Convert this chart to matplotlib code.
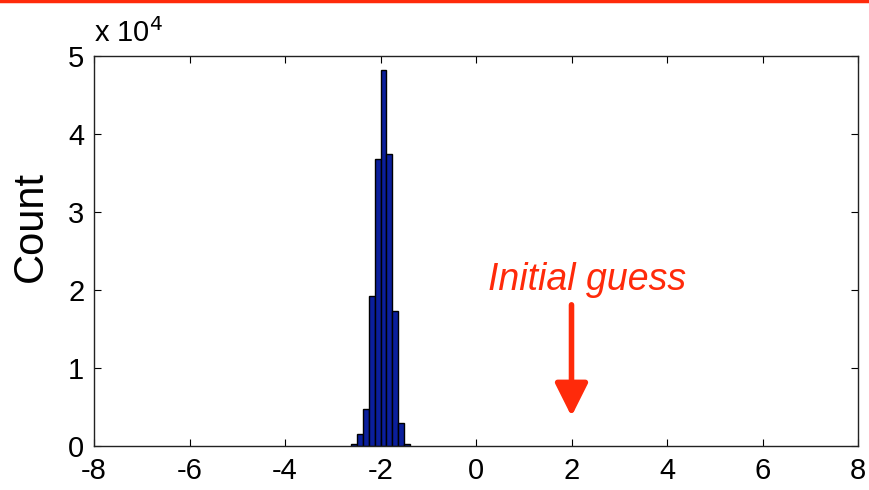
import matplotlib
matplotlib.use("Agg")
import matplotlib.pyplot as plt
from matplotlib.ticker import FuncFormatter
from matplotlib.lines import Line2D

bin_edges = [-2.625, -2.5, -2.375, -2.25, -2.125, -2.0, -1.875, -1.75, -1.625, -1.5, -1.375]
counts = [250, 1600, 4700, 19200, 36800, 48200, 37400, 17300, 3000, 250]
x_ticks = [-8, -6, -4, -2, 0, 2, 4, 6, 8]
y_ticks = [0, 10000, 20000, 30000, 40000, 50000]
guess_x = 2.0
label_text = "Initial guess"

plt.rcParams['font.family'] = ['Liberation Sans', 'DejaVu Sans']
plt.rcParams['axes.unicode_minus'] = False

red = '#ff2a0a'

fig = plt.figure(figsize=(8.69, 4.9), dpi=100)
ax = fig.add_axes([94/869, 44/490, 764/869, 390/490])

centers = [(bin_edges[i] + bin_edges[i+1]) / 2 for i in range(len(counts))]
widths = [bin_edges[i+1] - bin_edges[i] for i in range(len(counts))]
ax.bar(centers, counts, width=widths, color='#0b1f9c', edgecolor='black', linewidth=1.0)

ax.set_xlim(-8, 8)
ax.set_ylim(0, 50000)
ax.set_xticks(x_ticks)
ax.set_yticks(y_ticks)
ax.yaxis.set_major_formatter(FuncFormatter(lambda v, p: f"{v/1e4:g}"))
ax.tick_params(direction='in', top=True, right=True, length=5, width=0.8, labelsize=21)
ax.tick_params(axis='x', pad=8)
ax.tick_params(axis='y', pad=7)
for s in ax.spines.values():
    s.set_linewidth(1.0)
    s.set_color('#222222')

fig.text(31/869, 1 - 227/490, "Count", rotation=90, fontsize=30, ha='center', va='center')

ax.text(0.0, 1 + 14/390, r"x 10$^4$", transform=ax.transAxes, fontsize=21, ha='left', va='baseline')

ax.annotate("", xy=(guess_x, 3800), xytext=(guess_x, 18100),
            arrowprops=dict(arrowstyle='-|>,head_width=0.5,head_length=1.0', color=red, lw=4,
                            mutation_scale=20, shrinkA=0, shrinkB=0))
ax.text(guess_x + 0.32, 20000, label_text, fontsize=27, style='italic', color=red, ha='center', va='baseline')

fig.add_artist(Line2D([0, 1], [1 - 1.5/490, 1 - 1.5/490], transform=fig.transFigure, color=red, lw=2.5))

fig.savefig("out.png", dpi=100)
